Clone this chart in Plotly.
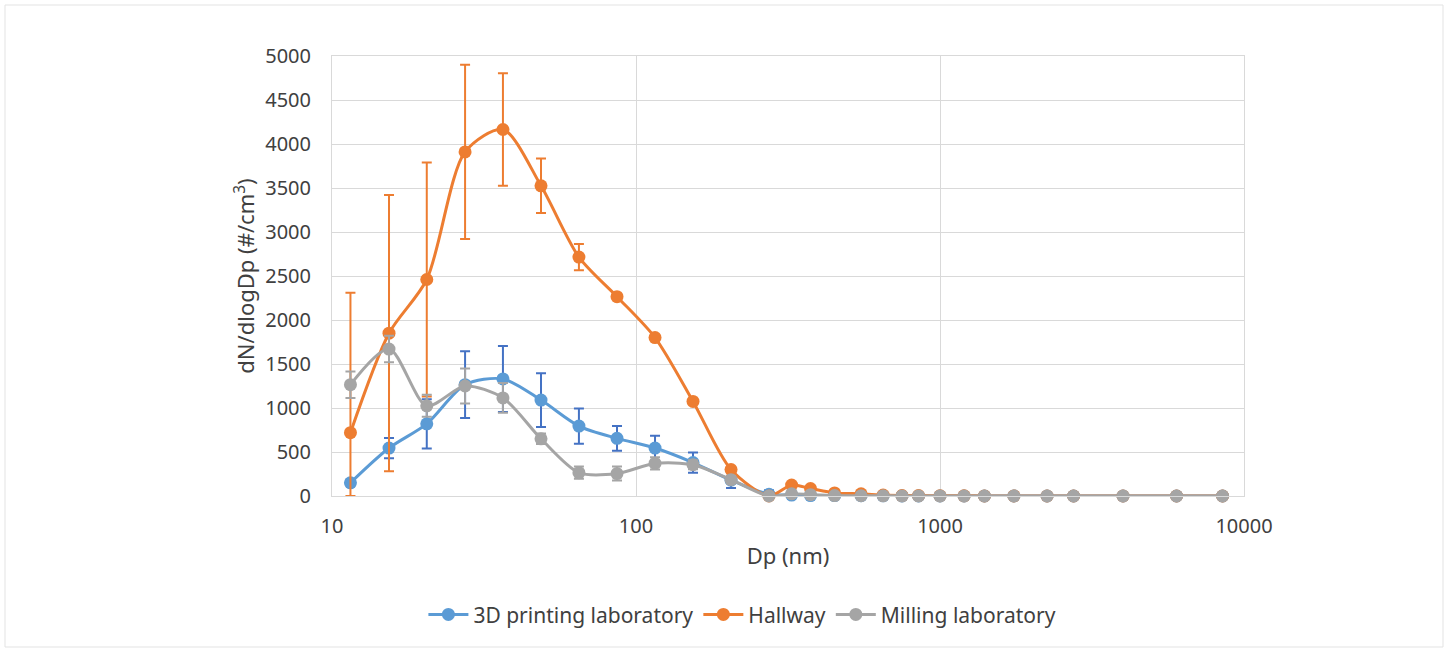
import plotly.graph_objects as go

dp_nm = [11.5, 15.4, 20.5, 27.4, 36.5, 48.7, 64.9, 86.6, 115.5, 154.0, 205.4, 273.8,
         325, 375, 450, 550, 650, 750, 850, 1000, 1200, 1400, 1750, 2250, 2750, 4000, 6000, 8500]

printing_lab = [150, 545, 820, 1265, 1330, 1090, 795, 655, 545, 380, 180, 20,
                10, 5, 5, 3, 2, 1, 1, 0, 0, 0, 0, 0, 0, 0, 0, 0]
printing_err = [30, 115, 280, 380, 375, 305, 200, 140, 140, 115, 90, 45,
                0, 0, 0, 0, 0, 0, 0, 0, 0, 0, 0, 0, 0, 0, 0, 0]

hallway = [720, 1850, 2460, 3910, 4165, 3525, 2715, 2265, 1800, 1075, 300, 0,
           125, 85, 35, 25, 10, 5, 5, 3, 2, 1, 1, 0, 0, 0, 0, 0]
hallway_err = [1590, 1570, 1330, 990, 640, 310, 150, 0, 0, 0, 0, 0,
               0, 0, 0, 0, 0, 0, 0, 0, 0, 0, 0, 0, 0, 0, 0, 0]

milling_lab = [1265, 1670, 1025, 1250, 1115, 650, 265, 255, 370, 355, 185, 0,
               25, 15, 5, 3, 2, 1, 1, 1, 0, 0, 0, 0, 0, 0, 0, 0]
milling_err = [150, 150, 125, 200, 170, 60, 70, 80, 70, 50, 40, 0,
               0, 0, 0, 0, 0, 0, 0, 0, 0, 0, 0, 0, 0, 0, 0, 0]

series = [
    ("3D printing laboratory", printing_lab, printing_err, "#5B9BD5", "#4472C4"),
    ("Hallway", hallway, hallway_err, "#ED7D31", "#ED7D31"),
    ("Milling laboratory", milling_lab, milling_err, "#A5A5A5", "#A5A5A5"),
]

FONT = "Noto Sans"
TXT = "#404040"
fig = go.Figure()
for name, vals, errs, color, ecolor in series:
    minus = [min(e, v) for v, e in zip(vals, errs)]
    fig.add_trace(go.Scatter(
        x=dp_nm, y=vals, name=name, mode="lines+markers",
        line=dict(color=color, width=3, shape="spline", smoothing=0.8),
        marker=dict(color=color, size=13),
        error_y=dict(type="data", array=errs, arrayminus=minus, symmetric=False,
                     color=ecolor, thickness=2, width=5),
        cliponaxis=False,
    ))

fig.update_layout(
    width=1449, height=652,
    margin=dict(l=332, r=205, t=56, b=156),
    paper_bgcolor="white", plot_bgcolor="white",
    font=dict(family=FONT, size=20, color=TXT),
    showlegend=True,
    legend=dict(orientation="h", x=0.45, xanchor="center", y=-0.27, yanchor="middle",
                font=dict(size=21, color=TXT), itemwidth=40),
    xaxis=dict(type="log", range=[1, 4], tickvals=[10, 100, 1000, 10000],
               ticktext=["10", "100", "1000", "10000"],
               showgrid=True, gridcolor="#D9D9D9", gridwidth=1,
               showline=True, linecolor="#D9D9D9", linewidth=1, mirror=True,
               ticks="", ticklabelstandoff=12, zeroline=False,
               tickfont=dict(size=20, color=TXT),
               title=dict(text="Dp (nm)", standoff=10, font=dict(size=22, color=TXT))),
    yaxis=dict(range=[0, 5000], dtick=500, showgrid=True, gridcolor="#D9D9D9", gridwidth=1,
               showline=True, linecolor="#D9D9D9", linewidth=1, mirror=True,
               ticks="", ticklabelstandoff=16, zeroline=False,
               tickfont=dict(size=20, color=TXT),
               title=dict(text="dN/dlogDp (#/cm<sup>3</sup>)", standoff=4,
                          font=dict(size=22, color=TXT))),
    shapes=[dict(type="rect", xref="paper", yref="paper",
                 x0=(5 - 332) / 912, x1=(1443 - 332) / 912,
                 y0=(496 - 647) / 440, y1=(496 - 5) / 440,
                 line=dict(color="#E3E3E3", width=1), layer="below")],
)

fig.write_html("out.html")
